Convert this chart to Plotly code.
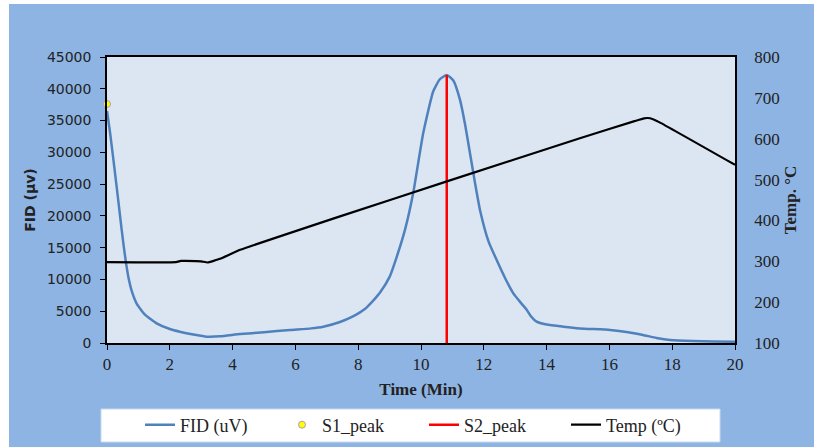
import plotly.graph_objects as go

# ---- data ----
fid_t = [0, 0.1, 0.2, 0.31, 0.42, 0.52, 0.6, 0.68, 0.8, 0.94, 1.2, 1.58, 2.0, 2.32, 2.8, 3.17,
         3.6, 4.24, 5.0, 5.83, 6.5, 6.89, 7.42, 7.8, 8.2, 8.5, 8.69, 9.0, 9.23, 9.5, 9.75, 10.07,
         10.39, 10.6, 10.82, 11.03, 11.24, 11.4, 11.56, 11.72, 11.88, 12.15, 12.41, 12.7, 12.94,
         13.2, 13.37, 13.5, 13.68, 14.0, 14.53, 15.06, 16.02, 16.6, 17.07, 17.5, 17.93, 18.66,
         19.3, 20]
fid_v = [36500, 33000, 29000, 24500, 19800, 15700, 12800, 10400, 8000, 6250, 4500, 3100, 2200,
         1780, 1300, 1000, 1050, 1400, 1700, 2050, 2300, 2570, 3300, 4100, 5300, 6800, 7900,
         10400, 13600, 18000, 23550, 33000, 39600, 41500, 42170, 41300, 38300, 34500, 29850,
         25200, 20900, 16000, 13060, 10000, 7800, 6200, 5200, 4200, 3350, 2900, 2570, 2300,
         2050, 1700, 1260, 800, 470, 300, 250, 200]

s1_t = [0]
s1_v = [37600]

s2_t = [10.82, 10.82]
s2_v = [0, 42170]

temp_t = [0, 2.2, 2.35, 2.5, 3.0, 3.2, 3.6, 4.24, 7.42, 10.8, 15.06, 16.8, 17.1, 17.3, 17.6, 20]
temp_v = [298, 298, 301, 301, 300, 297, 306, 328, 410, 495, 601, 643, 650, 650, 640, 536]

x_ticks = [0, 2, 4, 6, 8, 10, 12, 14, 16, 18, 20]

# ---- figure ----
W, H = 814, 447
L, R, T, B = 107, 79, 57, 104
pw, ph = W - L - R, H - T - B

def px_x(p):
    return (p - L) / pw

def px_y(p):
    return (H - B - p) / ph

fig = go.Figure()
fig.add_trace(go.Scatter(x=fid_t, y=fid_v, name="FID (uV)", mode="lines",
                         line=dict(color="#4F81BD", width=2.5, shape="spline", smoothing=0.5)))
fig.add_trace(go.Scatter(x=s1_t, y=s1_v, name="S1_peak", mode="markers", cliponaxis=False,
                         marker=dict(color="#FFFF00", size=7, line=dict(color="#A99BBD", width=1))))
fig.add_trace(go.Scatter(x=s2_t, y=s2_v, name="S2_peak", mode="lines",
                         line=dict(color="#FF0000", width=2.5)))
fig.add_trace(go.Scatter(x=temp_t, y=temp_v, name="Temp (ºC)", mode="lines", yaxis="y2",
                         line=dict(color="#000000", width=2.2, shape="spline", smoothing=0.3)))

serif = "Liberation Serif"
sans = "DejaVu Sans"

fig.update_layout(
    width=W, height=H,
    margin=dict(l=L, r=R, t=T, b=B, autoexpand=False),
    paper_bgcolor="#8EB4E3",
    plot_bgcolor="#DCE6F2",
    showlegend=True,
    legend=dict(orientation="h", x=px_x(140), xanchor="left", y=px_y(425), yanchor="middle",
                bgcolor="rgba(0,0,0,0)", font=dict(family=serif, size=18, color="#222"),
                entrywidthmode="pixels", entrywidth=97, itemwidth=30),
    xaxis=dict(range=[0, 20], tickvals=x_ticks, ticks="outside", ticklen=5, tickcolor="black",
               showline=True, linecolor="black", linewidth=1.5, mirror=True, showgrid=False,
               zeroline=False, automargin=False, tickfont=dict(family=serif, size=17, color="#222"),
               title=dict(text="<b>Time (Min)</b>", font=dict(family=serif, size=17, color="#222"),
                          standoff=10)),
    yaxis=dict(range=[0, 45000], dtick=5000, tickformat="d", ticks="outside", ticklen=5,
               tickcolor="black", showline=True, linecolor="black", linewidth=1.5, mirror=True,
               showgrid=False, zeroline=False, automargin=False,
               tickfont=dict(family=sans, size=14, color="#222"), ticklabelstandoff=6,
               title=dict(text="<b>FID (µv)</b>", font=dict(family=sans, size=14, color="#222"),
                          standoff=8)),
    yaxis2=dict(range=[100, 800], dtick=100, overlaying="y", side="right", showgrid=False,
                zeroline=False, showline=True, linecolor="black", linewidth=1.5, ticks="",
                automargin=False, tickfont=dict(family=serif, size=17, color="#222"),
                ticklabelstandoff=14,
                title=dict(text="<b>Temp. °C</b>", font=dict(family=serif, size=17, color="#222"),
                           standoff=5)),
    shapes=[
        dict(type="rect", xref="paper", yref="paper", x0=-1, x1=px_x(9), y0=-1, y1=2,
             fillcolor="white", line=dict(width=0), layer="below"),
        dict(type="rect", xref="paper", yref="paper", x0=-1, x1=2, y0=px_y(4), y1=2,
             fillcolor="white", line=dict(width=0), layer="below"),
        dict(type="rect", xref="paper", yref="paper", x0=px_x(101), x1=px_x(720),
             y0=px_y(442), y1=px_y(409), fillcolor="white", line=dict(color="#C9D9EE", width=1),
             layer="below"),
    ],
)

fig.write_html("out.html")
